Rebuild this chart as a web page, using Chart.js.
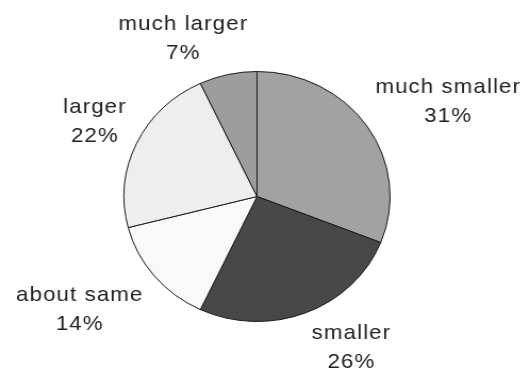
<!DOCTYPE html>
<html>
<head>
<meta charset="utf-8">
<script src="https://cdn.jsdelivr.net/npm/chart.js@4"></script>
<style>
html,body{margin:0;padding:0;background:#fff;overflow:hidden}
/* source picture is stretched a bit wider than tall */
#wrap{width:498px;height:372px;transform:scaleX(1.0643);transform-origin:0 0}
</style>
</head>
<body>
<div id="wrap"><canvas id="myChart" width="498" height="372"></canvas></div>
<script>
const categories = ['much smaller', 'smaller', 'about same', 'larger', 'much larger'];
const percents = [31, 26, 14, 22, 7];
const sliceColors = ['#a2a2a2', '#484848', '#f9f9f9', '#eeeeee', '#9d9d9d'];

// nudges so labels sit where the original put them
const labelNudge = [[13, -6], [26, 4], [-18, 12], [-5, -8], [-27, -4]];

const outsideLabels = {
  id: 'outsideLabels',
  afterDatasetsDraw(chart) {
    const ctx = chart.ctx;
    const meta = chart.getDatasetMeta(0);
    ctx.save();
    ctx.font = '21px "Liberation Sans", Arial, sans-serif';
    if ('letterSpacing' in ctx) ctx.letterSpacing = '1px';
    ctx.fillStyle = '#222';
    ctx.textAlign = 'center';
    ctx.textBaseline = 'middle';
    meta.data.forEach((arc, i) => {
      const mid = (arc.startAngle + arc.endAngle) / 2;
      const ux = Math.cos(mid), uy = Math.sin(mid);
      const line2 = percents[i] + '%';
      const w = Math.max(ctx.measureText(categories[i]).width, ctx.measureText(line2).width);
      const h = 50;
      const r = arc.outerRadius + 8;
      const cx = arc.x + ux * r + ux * w / 2 + labelNudge[i][0];
      const cy = arc.y + uy * r + uy * h / 2 + labelNudge[i][1];
      ctx.fillText(categories[i], cx, cy - 14.5);
      ctx.fillText(line2, cx, cy + 14.5);
    });
    ctx.restore();
  }
};

const ctx = document.getElementById('myChart');
const myChart = new Chart(ctx, {
  type: 'pie',
  data: {
    labels: categories,
    datasets: [{
      data: percents,
      backgroundColor: sliceColors,
      borderColor: '#1a1a1a',
      borderWidth: 1
    }]
  },
  options: {
    responsive: false,
    animation: false,
    layout: { padding: { top: 71, bottom: 50, left: 0, right: 15 } },
    plugins: {
      legend: { display: false },
      tooltip: { enabled: false }
    }
  },
  plugins: [outsideLabels]
});
</script>
</body>
</html>
